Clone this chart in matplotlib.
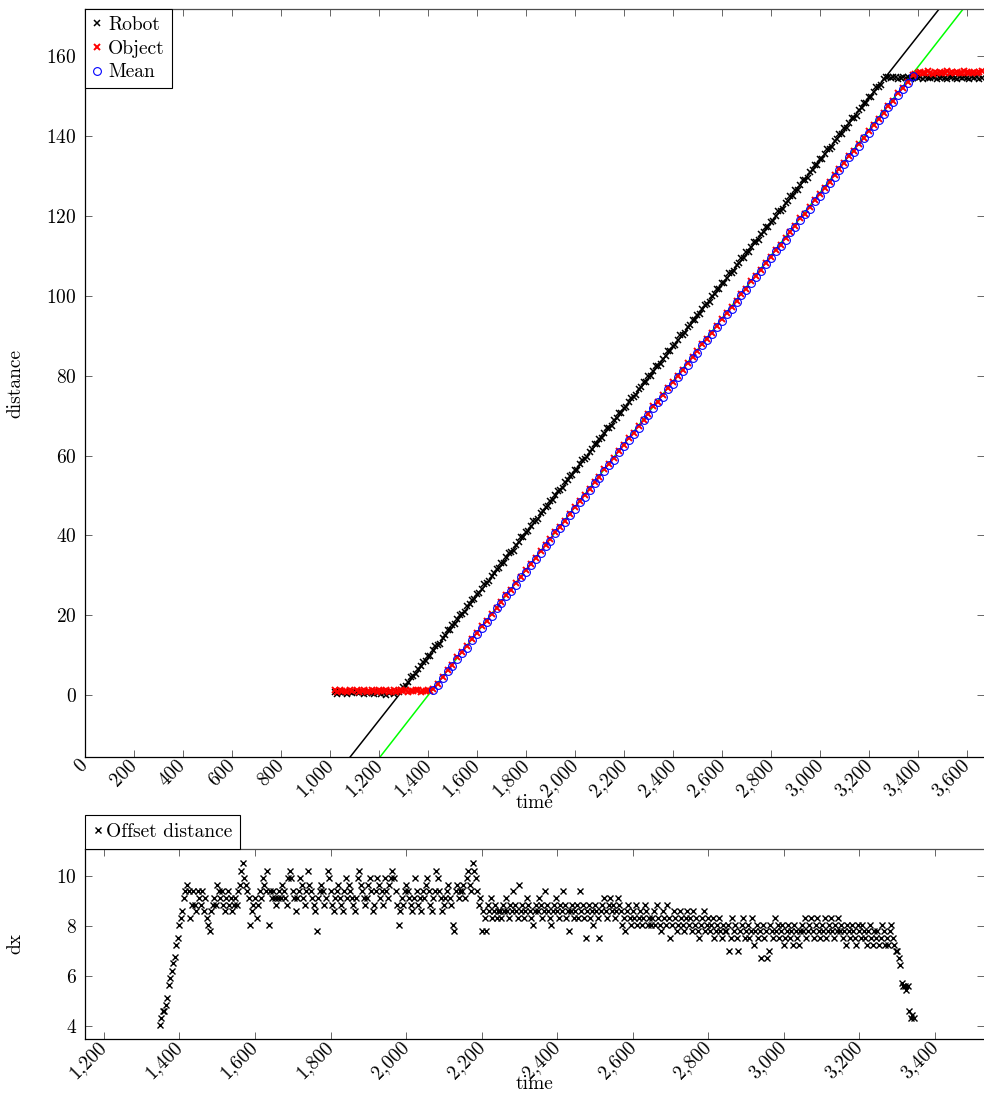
import numpy as np
import matplotlib.pyplot as plt
from matplotlib.ticker import FuncFormatter

plt.rcParams['font.family'] = 'serif'
plt.rcParams['font.serif'] = ['cmr10']
plt.rcParams['mathtext.fontset'] = 'cm'
plt.rcParams['axes.formatter.use_mathtext'] = True
plt.rcParams['font.size'] = 14

nan = np.nan

# ── Data: robot position (sampled every 10 time units from 1020) ──
robot_t = np.arange(1020, 3670, 10)
robot_wait = [0.8, 0.4, 0.9, 0.5, 0.7, 0.3, 0.8, 0.6, nan, 0.9, 0.5, 0.7, 0.2, 0.6,
              0.8, 0.5, 0.3, 0.7, 0.9, 0.4, 0.6, 0.1, 0.5, 0.8, 0.4, 0.7, 0.9, 1.2]
robot_move = [
    2.1, 2.2, 3.4, 4.6, 4.7, 5.2, 6.6, 7.2, 8.4, 8.5,
    9.8, 9.9, 11.2, 12.4, 12.5, 12.9, 14.4, 15.0, 16.2, 16.2,
    17.6, 17.7, 19.0, 20.1, 20.2, 20.7, 22.2, 22.8, 23.9, 24.0,
    25.4, 25.5, 26.7, 27.9, 28.0, 28.5, 29.9, 30.5, 31.7, 31.8,
    33.2, 33.2, 34.5, 35.7, 35.8, 36.2, 37.7, 38.3, 39.5, 39.5,
    40.9, 41.0, 42.3, 43.5, 43.5, 44.0, 45.5, 46.1, 47.2, 47.3,
    48.7, 48.8, 50.0, 51.2, 51.3, 51.8, 53.3, 53.8, 55.0, 55.1,
    56.5, 56.5, 57.8, 59.0, 59.1, 59.6, 61.0, 61.6, 62.8, 62.9,
    64.2, 64.3, 65.6, 66.8, 66.8, 67.3, 68.8, 69.4, 70.6, 70.6,
    72.0, 72.1, 73.4, 74.5, 74.6, 75.1, 76.6, 77.1, 78.3, 78.4,
    79.8, 79.9, 81.1, 82.3, 82.4, 82.9, 84.3, 84.9, 86.1, 86.2,
    87.5, 87.6, 88.9, 90.1, 90.2, 90.6, 92.1, 92.7, 93.9, 93.9,
    95.3, 95.4, 96.7, 97.8, 97.9, 98.4, 99.9, 100.5, 101.6, 101.7,
    103.1, 103.2, 104.4, 105.6, 105.7, 106.2, 107.6, 108.2, 109.4, 109.5,
    110.9, 110.9, 112.2, 113.4, 113.5, 113.9, 115.4, 116.0, 117.2, 117.2,
    118.6, 118.7, 120.0, 121.2, 121.2, 121.7, 123.2, 123.8, 124.9, 125.0,
    126.4, 126.5, 127.7, 128.9, 129.0, 129.5, 131.0, 131.5, 132.7, 132.8,
    134.2, 134.2, 135.5, 136.7, 136.8, 137.3, 138.7, 139.3, 140.5, 140.6,
    141.9, 142.0, 143.3, 144.5, 144.5, 145.0, 146.5, 147.1, 148.3, 148.3,
    149.7, 149.8, 151.1, 152.2, 152.3, 152.8, 154.3, 154.8]
robot_stop = [
    154.8, 154.5, 154.7, 154.9, 154.4, 154.6, 154.8, 154.5, 154.7, 154.3,
    154.6, 154.9, 154.5, 154.7, 154.4, 154.8, 154.6, 154.5, 154.9, 154.7,
    154.4, 154.6, 154.8, 154.5, 154.3, 154.7, 154.9, 154.6, 154.4, 154.8,
    154.5, 154.7, 154.6, 154.3, 154.8, 154.5, 154.7, 154.4, 154.6]
robot_d = robot_wait + robot_move + robot_stop

# ── Data: object position ──
obj_wait_t = np.arange(1020, 1420, 10)
obj_wait = [1.2, 0.9, 1.3, 1.0, 1.1, 0.8, 1.2, 1.0, nan, 1.3,
            0.9, 1.1, 1.2, 0.8, 1.0, 1.3, 1.1, 0.9, 1.2, 1.0,
            1.1, 1.3, 0.8, 1.0, 1.2, 0.9, 1.1, 1.3, 1.0, 1.2,
            0.9, 1.1, 1.0, 1.3, 1.2, 0.9, 1.1, 1.0, 1.2, 1.1]
obj_move_t = np.arange(1420, 3381, 20)
obj_move = [
    1.5, 2.9, 4.6, 6.2, 7.6, 9.5, 10.7, 12.3, 14.0, 15.6,
    17.2, 18.6, 20.3, 21.9, 23.3, 25.2, 26.4, 28.0, 29.7, 31.3,
    32.9, 34.3, 36.0, 37.6, 39.0, 40.9, 42.1, 43.7, 45.4, 47.0,
    48.6, 50.0, 51.7, 53.3, 54.7, 56.6, 57.8, 59.4, 61.1, 62.7,
    64.3, 65.7, 67.4, 69.0, 70.4, 72.3, 73.5, 75.1, 76.8, 78.4,
    80.0, 81.4, 83.1, 84.7, 86.1, 88.0, 89.2, 90.8, 92.5, 94.1,
    95.7, 97.1, 98.8, 100.4, 101.8, 103.7, 104.9, 106.5, 108.2, 109.8,
    111.4, 112.8, 114.5, 116.1, 117.5, 119.4, 120.6, 122.2, 123.9, 125.5,
    127.1, 128.5, 130.2, 131.8, 133.2, 135.1, 136.3, 137.9, 139.6, 141.2,
    142.8, 144.2, 145.9, 147.5, 148.9, 150.8, 152.0, 153.6, 155.3]
obj_stop_t = np.arange(3390, 3670, 10)
obj_stop = [155.6, 155.9, 156.1, 155.7, 155.8, 156.2, 155.9, 155.6, 156.0, 155.8,
            156.1, 155.7, 155.9, 156.2, 155.8, 156.0, 155.7, 156.1, 155.9, 155.8,
            156.2, 156.0, 155.7, 155.9, 156.1, 155.8, 156.0, 156.2]

# ── Data: mean of object estimate (same instants as obj_move_t) ──
mean_d = [
    1.2, 2.6, 4.2, 6.0, 7.3, 9.1, 10.5, 11.9, 13.8, 15.2,
    16.9, 18.3, 19.9, 21.7, 23.0, 24.8, 26.2, 27.6, 29.5, 30.9,
    32.6, 34.0, 35.6, 37.4, 38.7, 40.5, 41.9, 43.3, 45.2, 46.6,
    48.3, 49.7, 51.3, 53.1, 54.4, 56.2, 57.6, 59.0, 60.9, 62.3,
    64.0, 65.4, 67.0, 68.8, 70.1, 71.9, 73.3, 74.7, 76.6, 78.0,
    79.7, 81.1, 82.7, 84.5, 85.8, 87.6, 89.0, 90.4, 92.3, 93.7,
    95.4, 96.8, 98.4, 100.2, 101.5, 103.3, 104.7, 106.1, 108.0, 109.4,
    111.1, 112.5, 114.1, 115.9, 117.2, 119.0, 120.4, 121.8, 123.7, 125.1,
    126.8, 128.2, 129.8, 131.6, 132.9, 134.7, 136.1, 137.5, 139.4, 140.8,
    142.5, 143.9, 145.5, 147.3, 148.6, 150.4, 151.8, 153.2, 155.1]

# ── Data: fitted lines (end points) ──
robot_fit_t = [1050, 3520]
robot_fit_d = [-18.0, 174.4]
obj_fit_t = [1180, 3610]
obj_fit_d = [-17.4, 173.8]

# ── Data: offset distance (every 4 time units from 1348) ──
dx_t = np.arange(1348, 3348, 4)
dx = [
    4.05, 4.3, 4.6, 4.6, 4.85, 5.1, 5.65, 5.9, 6.2, 6.5, 6.75, 7.25, 7.5, 8.05, 8.3, 8.6, 9.1, 9.4, 9.65, 9.4, 8.3, 8.85, 9.4, 8.85, 8.6,
    9.4, 9.1, 8.85, 9.4, 8.6, 9.1, 8.3, 8.05, 7.8, 8.6, 8.85, 9.1, 8.85, 9.65, 9.4, 9.1, 9.4, 8.85, 8.6, 9.1, 9.4, 8.85, 9.1, 8.6, 8.85,
    9.1, 8.85, 9.4, 9.65, 10.2, 10.5, 9.9, 9.65, 9.4, 9.1, 8.05, 8.6, 8.85, 9.1, 8.3, 8.85, 9.4, 9.1, 9.9, 9.65, 9.4, 10.2, 8.05, 9.4, 9.1,
    9.4, 9.1, 8.85, 9.1, 9.4, 9.1, 9.65, 9.4, 9.1, 8.85, 9.9, 10.2, 9.9, 9.4, 9.1, 8.6, 9.1, 9.4, 9.9, 9.65, 9.1, 8.85, 9.4, 10.2, 9.65,
    9.4, 9.1, 8.85, 8.6, 7.8, 9.1, 9.4, 9.65, 9.4, 8.85, 9.1, 10.2, 9.9, 9.4, 8.85, 8.6, 9.1, 9.4, 9.65, 9.1, 8.85, 8.6, 9.4, 9.9, 9.1,
    9.65, 9.4, 9.1, 8.85, 8.6, 9.1, 9.9, 10.2, 9.65, 9.4, 9.1, 8.85, 9.1, 9.65, 9.9, 9.4, 8.6, 8.85, 9.4, 9.9, 9.65, 9.1, 9.4, 8.85, 9.9,
    9.4, 9.1, 9.65, 9.9, 10.2, 9.9, 9.4, 8.85, 8.05, 8.6, 9.1, 8.85, 9.4, 9.65, 9.4, 9.1, 8.85, 8.6, 9.1, 9.9, 9.4, 8.85, 9.1, 8.6, 9.4,
    9.1, 9.65, 9.9, 9.4, 8.85, 8.6, 9.1, 9.4, 10.2, 9.9, 9.4, 9.1, 8.6, 8.85, 9.1, 9.4, 9.65, 9.1, 8.85, 8.05, 7.8, 9.4, 9.65, 9.1, 9.4,
    9.4, 9.65, 9.1, 9.9, 10.2, 9.65, 9.4, 10.5, 10.2, 9.9, 9.4, 8.85, 9.1, 7.8, 8.6, 8.3, 7.8, 8.85, 8.6, 9.1, 8.3, 8.6, 8.85, 8.3, 8.6,
    8.6, 8.3, 8.85, 8.6, 9.1, 8.6, 8.3, 8.85, 8.6, 9.4, 8.85, 8.6, 8.3, 9.65, 8.6, 8.85, 8.3, 8.6, 9.1, 8.85, 8.6, 8.3, 8.05, 8.6, 8.85,
    8.6, 9.1, 8.85, 8.3, 8.6, 9.4, 8.85, 8.6, 8.3, 8.05, 8.6, 8.85, 9.1, 8.6, 8.3, 8.85, 8.6, 9.4, 8.85, 8.3, 8.6, 7.8, 8.6, 8.85, 8.3,
    8.6, 8.85, 8.3, 9.4, 8.6, 8.85, 8.3, 7.5, 8.6, 8.85, 8.3, 8.6, 8.05, 8.85, 8.6, 8.3, 7.5, 8.6, 8.85, 9.1, 8.6, 8.3, 8.85, 9.1, 8.6,
    8.85, 8.3, 8.6, 9.1, 8.85, 8.6, 8.05, 8.3, 7.8, 8.6, 8.85, 8.3, 8.05, 8.6, 8.3, 8.85, 8.05, 8.3, 8.6, 8.05, 8.3, 8.85, 8.6, 8.05, 8.3,
    8.05, 8.3, 8.6, 8.05, 8.85, 8.3, 8.05, 7.8, 8.6, 8.3, 8.05, 8.85, 8.3, 7.5, 8.05, 8.6, 8.3, 7.8, 8.05, 8.6, 8.3, 8.05, 7.8, 8.3, 8.6,
    8.05, 8.3, 7.8, 8.6, 8.05, 8.3, 7.8, 7.5, 8.05, 8.3, 8.6, 7.8, 8.05, 8.3, 7.8, 8.05, 8.3, 7.5, 7.8, 8.05, 8.3, 7.8, 7.5, 8.05, 7.8,
    7.8, 8.05, 7.0, 7.5, 8.3, 7.8, 8.05, 7.5, 7.0, 7.8, 8.05, 8.3, 7.5, 7.8, 8.05, 7.5, 7.8, 8.3, 7.25, 7.8, 8.05, 7.5, 7.8, 6.7, 8.05,
    7.5, 7.8, 6.7, 7.0, 8.05, 7.8, 7.5, 8.3, 7.8, 8.05, 7.5, 7.8, 8.05, 7.25, 7.5, 7.8, 8.05, 7.5, 7.8, 7.25, 8.05, 7.8, 7.5, 7.25, 7.8,
    8.05, 7.8, 8.3, 7.5, 7.8, 8.05, 8.3, 7.8, 7.5, 8.05, 8.3, 7.8, 7.5, 8.05, 7.8, 8.3, 7.5, 7.8, 8.05, 8.3, 7.8, 7.5, 8.05, 7.8, 8.3,
    7.8, 8.05, 7.5, 7.8, 7.25, 8.05, 7.8, 7.5, 8.05, 7.8, 7.5, 7.25, 8.05, 7.8, 7.5, 8.05, 7.8, 7.5, 7.25, 7.8, 8.05, 7.5, 7.25, 7.8, 7.5,
    7.8, 7.25, 7.5, 8.05, 7.8, 7.25, 7.5, 7.25, 7.8, 8.05, 7.5, 7.25, 7.0, 7.0, 6.7, 6.45, 5.7, 5.6, 5.6, 5.45, 5.6, 4.6, 4.3, 4.45, 4.3]

# ── Axis ticks ──
top_xticks = list(range(0, 3601, 200))
top_yticks = list(range(0, 161, 20))
bot_xticks = list(range(1200, 3401, 200))
bot_yticks = [4, 6, 8, 10]

comma = FuncFormatter(lambda v, p: f"{int(v):,}")

# ── Figure ──
fig = plt.figure(figsize=(9.84, 10.94), dpi=100)
ax = fig.add_axes([0.0864, 0.3080, 0.9136, 0.6837])
ax2 = fig.add_axes([0.0864, 0.0503, 0.9136, 0.1737])

mk = dict(linestyle='none', markersize=4.8, markeredgewidth=1.0)

# top panel: distance over time
ax.plot(robot_fit_t, robot_fit_d, color='black', lw=1.1, zorder=1)
ax.plot(obj_fit_t, obj_fit_d, color=(0, 1, 0), lw=1.1, zorder=1)
ax.plot(robot_t, robot_d, marker='x', color='black', label='Robot', zorder=2,
        linestyle='none', markersize=4.8, markeredgewidth=1.1)
obj_t = np.concatenate([obj_wait_t, obj_move_t, obj_stop_t])
obj_d = obj_wait + obj_move + obj_stop
ax.plot(obj_t, obj_d, marker='x', color='red', label='Object', zorder=3,
        linestyle='none', markersize=4.8, markeredgewidth=1.4)
ax.plot(obj_move_t, mean_d, marker='o', color='blue', markerfacecolor='none',
        linestyle='none', markersize=5.6, markeredgewidth=0.8, label='Mean', zorder=4)

ax.set_xlim(0, 3670)
ax.set_ylim(-15.5, 171.8)
ax.set_xticks(top_xticks)
ax.set_yticks(top_yticks)
ax.xaxis.set_major_formatter(comma)
ax.set_xlabel('time')
ax.set_ylabel('distance')
ax.xaxis.set_label_coords(0.5, -0.049)
ax.yaxis.set_label_coords(-0.068, 0.5)

leg = ax.legend(loc='upper left', borderaxespad=0, fancybox=False, edgecolor='black',
                framealpha=1, handlelength=0.5, handletextpad=0.35, borderpad=0.35,
                labelspacing=0.3)
leg.get_frame().set_linewidth(0.8)

# bottom panel: offset distance
ax2.plot(dx_t, dx, marker='x', color='black', label='Offset distance', **mk)
ax2.set_xlim(1150, 3530)
ax2.set_ylim(3.48, 11.08)
ax2.set_xticks(bot_xticks)
ax2.set_yticks(bot_yticks)
ax2.xaxis.set_major_formatter(comma)
ax2.set_xlabel('time')
ax2.set_ylabel('dx')
ax2.xaxis.set_label_coords(0.5, -0.19)
ax2.yaxis.set_label_coords(-0.068, 0.5)

leg2 = ax2.legend(loc='lower left', bbox_to_anchor=(0, 1), borderaxespad=0, fancybox=False,
                  edgecolor='black', framealpha=1, handlelength=0.5, handletextpad=0.2,
                  borderpad=0.4)
leg2.get_frame().set_linewidth(0.8)

for a in (ax, ax2):
    a.tick_params(direction='in', length=5, width=0.7, color='0.4',
                  top=True, right=True, labelsize=14)
    a.tick_params(axis='y', pad=6)
    a.tick_params(axis='x', pad=4)
    for lab in a.get_xticklabels():
        lab.set_rotation(45)
        lab.set_ha('right')
        lab.set_va('center')
        lab.set_rotation_mode('anchor')
    for s in a.spines.values():
        s.set_linewidth(0.9)
    a.spines['top'].set_color('0.3')
    a.spines['right'].set_visible(False)

fig.savefig('out.png', dpi=100)
